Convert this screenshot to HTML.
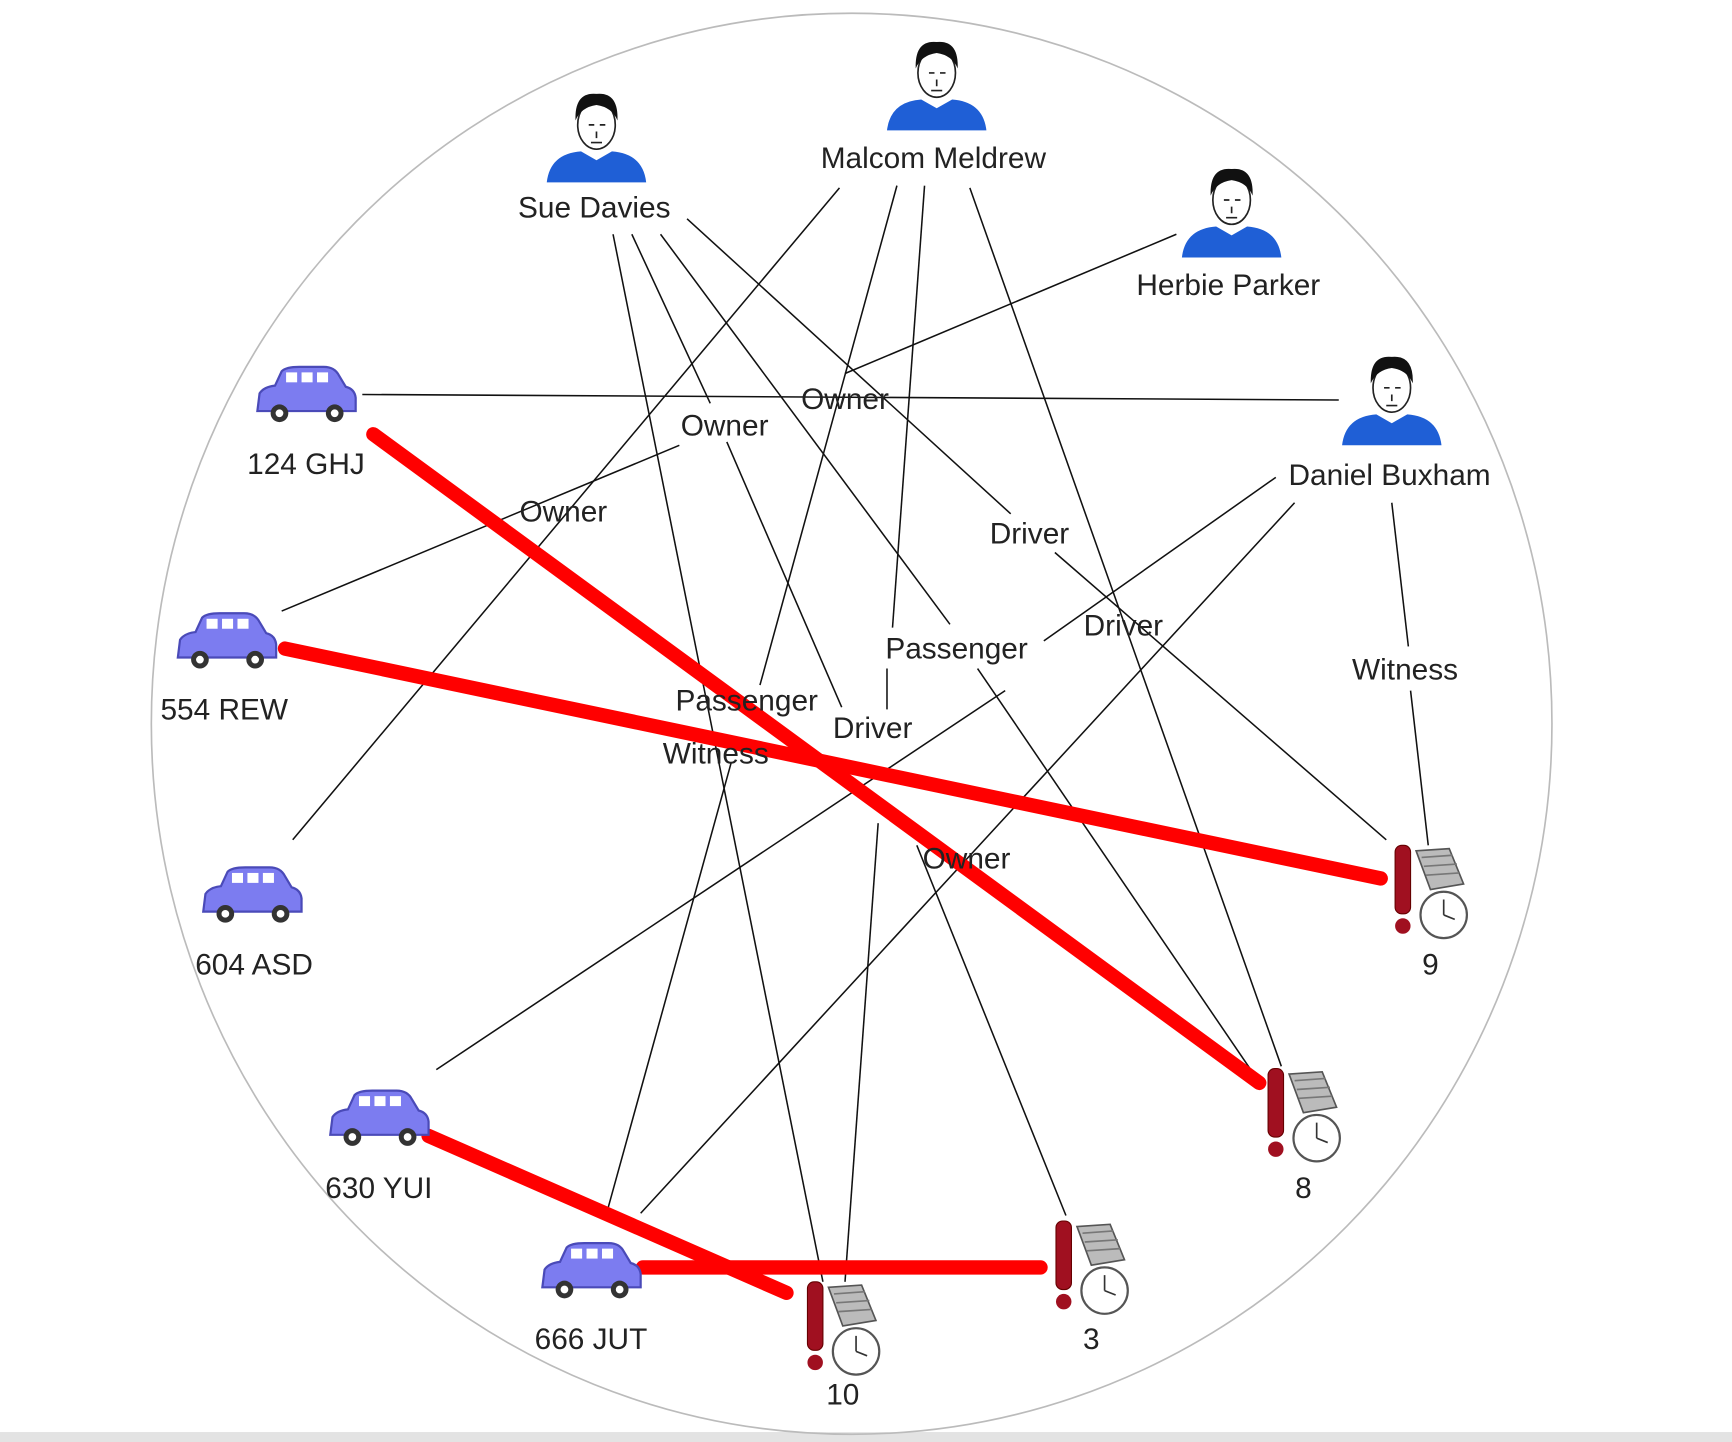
<!DOCTYPE html>
<html><head><meta charset="utf-8"><style>
html,body{margin:0;padding:0;background:#fff;}
svg{display:block;}
text{font-family:"Liberation Sans",sans-serif;font-size:27px;fill:#222;}
</style></head><body>
<svg width="1732" height="1442" viewBox="0 0 1568 1305" preserveAspectRatio="none" xmlns="http://www.w3.org/2000/svg">
<defs>
<g id="person">
 <ellipse cx="0" cy="-12" rx="17" ry="22" fill="#fff" stroke="#222" stroke-width="1.5"/>
 <path d="M-19,-16 Q-20,-42 0,-40 Q20,-42 19,-16 Q14,-28 0,-30 Q-14,-28 -19,-16Z" fill="#111"/>
 <path d="M-7,-12 h5 M3,-12 h5 M0,-6 v6 M-5,4 h10" stroke="#222" stroke-width="1.5"/>
 <path d="M-45,40 Q-42,14 -14,12 L0,20 L14,12 Q42,14 45,40Z" fill="#1f5fd6"/>
</g>
<g id="car">
 <path d="M-44,10 L-42,-6 Q-38,-12 -28,-13 L-22,-26 Q-18,-30 -6,-30 L16,-30 Q26,-30 30,-22 L36,-12 Q44,-10 45,-2 L45,10Z" fill="#7c7cf0" stroke="#4a4ab8" stroke-width="2"/>
 <rect x="-18" y="-25" width="10" height="9" fill="#fff"/><rect x="-4" y="-25" width="10" height="9" fill="#fff"/><rect x="10" y="-25" width="10" height="9" fill="#fff"/>
 <circle cx="-24" cy="12" r="8" fill="#333"/><circle cx="-24" cy="12" r="3.5" fill="#fff"/>
 <circle cx="26" cy="12" r="8" fill="#333"/><circle cx="26" cy="12" r="3.5" fill="#fff"/>
</g>
<g id="inc">
 <path d="M5,-40 L35,-42 L48,-10 L18,-5Z" fill="#bbb" stroke="#555" stroke-width="1.5"/>
 <path d="M10,-34 L38,-36 M12,-26 L42,-28 M14,-18 L44,-20" stroke="#777" stroke-width="1.5"/>
 <rect x="-14" y="-45" width="14" height="62" rx="6" fill="#a01020" stroke="#600" stroke-width="1"/>
 <circle cx="-7" cy="28" r="7" fill="#a01020"/>
 <circle cx="30" cy="18" r="21" fill="#fff" stroke="#555" stroke-width="2"/>
 <path d="M30,18 V4 M30,18 L40,22" stroke="#333" stroke-width="1.5"/>
</g>
</defs>
<rect x="0" y="1296" width="1568" height="9" fill="#e3e3e3"/>
<ellipse cx="771" cy="655" rx="634" ry="643" fill="none" stroke="#bbb" stroke-width="1.5"/>
<g stroke="#111" stroke-width="1.4" fill="none">
 <line x1="328" y1="357" x2="1212" y2="362"/>
 <line x1="1065" y1="212" x2="765" y2="338"/>
 <line x1="760" y1="170" x2="265" y2="760"/>
 <line x1="255" y1="553" x2="615" y2="403"/>
 <line x1="555" y1="212" x2="745" y2="1160"/>
 <line x1="572" y1="212" x2="643" y2="365"/>
 <line x1="658" y1="400" x2="762" y2="640"/>
 <line x1="598" y1="212" x2="860" y2="565"/>
 <line x1="885" y1="605" x2="1137" y2="975"/>
 <line x1="622" y1="198" x2="915" y2="465"/>
 <line x1="955" y1="500" x2="1255" y2="760"/>
 <line x1="812" y1="168" x2="688" y2="620"/>
 <line x1="837" y1="168" x2="808" y2="568"/>
 <line x1="803" y1="605" x2="803" y2="642"/>
 <line x1="795" y1="745" x2="765" y2="1160"/>
 <line x1="878" y1="170" x2="1160" y2="965"/>
 <line x1="1155" y1="432" x2="945" y2="580"/>
 <line x1="910" y1="625" x2="395" y2="968"/>
 <line x1="1172" y1="455" x2="580" y2="1098"/>
 <line x1="1260" y1="455" x2="1275" y2="585"/>
 <line x1="1277" y1="625" x2="1293" y2="765"/>
 <line x1="550" y1="1095" x2="662" y2="690"/>
 <line x1="830" y1="765" x2="965" y2="1100"/>
</g>
<g stroke="#f00" stroke-width="13" stroke-linecap="round">
 <line x1="338" y1="393" x2="1140" y2="980"/>
 <line x1="258" y1="587" x2="1250" y2="795"/>
 <line x1="388" y1="1028" x2="712" y2="1170"/>
 <line x1="582" y1="1147" x2="942" y2="1147"/>
</g>
<g text-anchor="middle">
 <text x="765" y="370">Owner</text>
 <text x="656" y="394">Owner</text>
 <text x="510" y="472">Owner</text>
 <text x="932" y="492">Driver</text>
 <text x="1017" y="575">Driver</text>
 <text x="866" y="596">Passenger</text>
 <text x="676" y="643">Passenger</text>
 <text x="790" y="668">Driver</text>
 <text x="648" y="691">Witness</text>
 <text x="875" y="786">Owner</text>
 <text x="1272" y="615">Witness</text>
</g>
<use href="#person" x="540" y="125"/><use href="#person" x="848" y="78"/><use href="#person" x="1115" y="193"/><use href="#person" x="1260" y="363"/>
<use href="#car" x="277" y="362"/><use href="#car" x="205" y="585"/><use href="#car" x="228" y="815"/><use href="#car" x="343" y="1017"/><use href="#car" x="535" y="1155"/>
<use href="#inc" x="745" y="1205"/><use href="#inc" x="970" y="1150"/><use href="#inc" x="1162" y="1012"/><use href="#inc" x="1277" y="810"/>
<g text-anchor="middle">
 <text x="538" y="197">Sue Davies</text>
 <text x="845" y="152">Malcom Meldrew</text>
 <text x="1112" y="267">Herbie Parker</text>
 <text x="1258" y="439">Daniel Buxham</text>
 <text x="277" y="429">124 GHJ</text>
 <text x="203" y="651">554 REW</text>
 <text x="230" y="882">604 ASD</text>
 <text x="343" y="1084">630 YUI</text>
 <text x="535" y="1221">666 JUT</text>
 <text x="763" y="1271">10</text>
 <text x="988" y="1221">3</text>
 <text x="1180" y="1084">8</text>
 <text x="1295" y="882">9</text>
</g>
</svg>
</body></html>
